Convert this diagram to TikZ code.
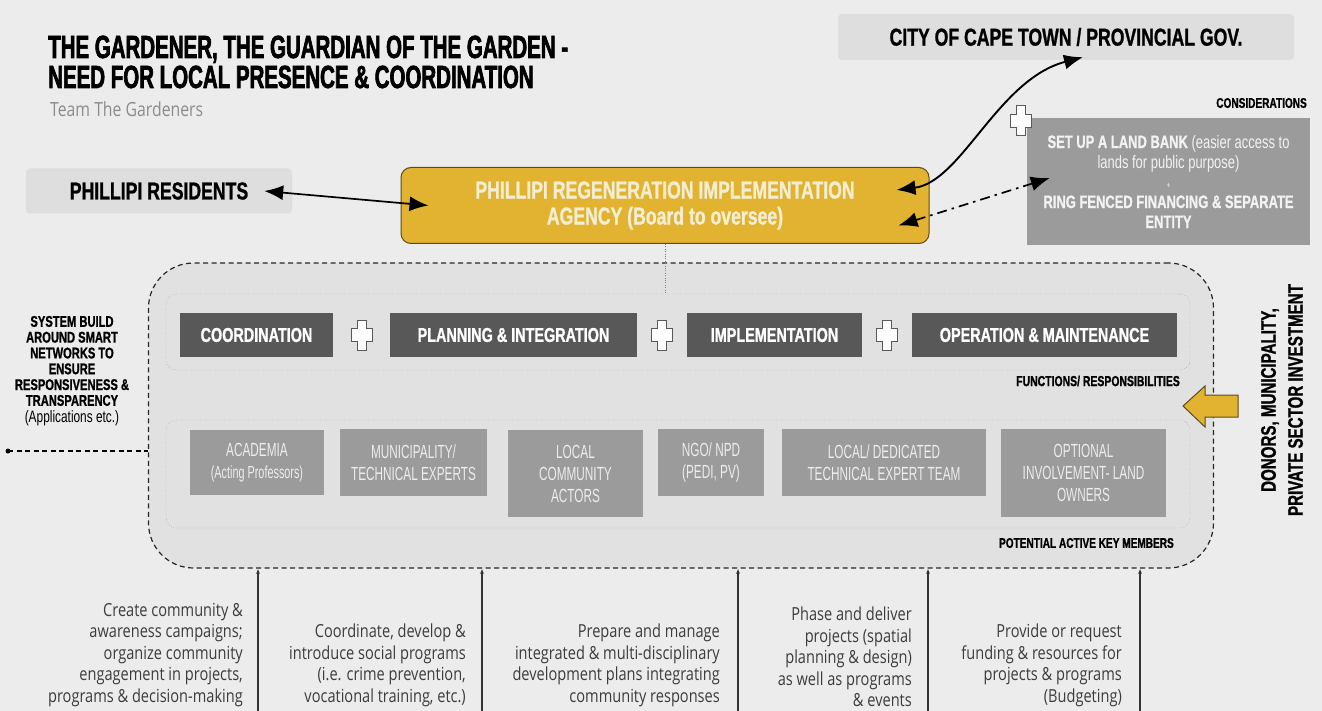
\documentclass[tikz,border=0pt]{standalone}
\usepackage{fontspec}
\usetikzlibrary{arrows.meta,calc}
\newfontfamily\titlefont{Liberation Sans}[FakeStretch=0.64, BoldFeatures={FakeBold=2}]
\newfontfamily\condfont{Liberation Sans}[FakeStretch=0.72, BoldFeatures={FakeBold=1}]
\newfontfamily\slimfont{Liberation Sans}[FakeStretch=0.62]
\newfontfamily\plainfont{Open Sans}[FakeStretch=0.81]
\definecolor{bgcol}{HTML}{ECECEC}
\definecolor{hubfill}{HTML}{E1E1E1}
\definecolor{boxlight}{HTML}{DEDEDE}
\definecolor{agencyyellow}{HTML}{E2B330}
\definecolor{agencyline}{HTML}{5C4B1C}
\definecolor{agencytext}{HTML}{F3EED2}
\definecolor{funcgray}{HTML}{585858}
\definecolor{membergray}{HTML}{9B9B9B}
\definecolor{notegray}{HTML}{3C3C3C}
\tikzset{
  lightbox/.style={fill=boxlight, rounded corners=4pt, inner sep=0pt, font=\condfont\bfseries\fontsize{24.5}{28}\selectfont},
  funcbox/.style={fill=funcgray, text=white, minimum height=44pt, inner sep=0pt, font=\condfont\bfseries\fontsize{20}{24}\selectfont},
  memberbox/.style={fill=membergray, text=white!93!black, inner sep=0pt, align=center, font=\slimfont\fontsize{19}{22}\selectfont},
  groupframe/.style={draw=black!55, dotted, rounded corners=10pt, minimum width=1024pt, inner sep=0pt},
  tag/.style={anchor=east, inner sep=0pt, font=\condfont\bfseries\fontsize{14.5}{16}\selectfont},
  note/.style={anchor=south east, inner sep=0pt, align=right, text=notegray, font=\plainfont\fontsize{18}{21.5}\selectfont},
  bigtip/.style={{Latex[length=19pt,width=15pt]}-{Latex[length=19pt,width=15pt]}, line width=1.7pt},
  riser/.style={-{Latex[length=5pt,width=4pt]}, line width=1.1pt, black!80},
  crosspic/.pic={\draw[fill=white, draw=black!65, line width=1pt] (-4.5,-15) -- (4.5,-15) -- (4.5,-6.5) -- (10.5,-6.5) -- (10.5,6.5) -- (4.5,6.5) -- (4.5,15) -- (-4.5,15) -- (-4.5,6.5) -- (-10.5,6.5) -- (-10.5,-6.5) -- (-4.5,-6.5) -- cycle;}
}
\begin{document}
\begin{tikzpicture}[x=1pt,y=-1pt]
\useasboundingbox (0,0) rectangle (1322,711);
\fill[bgcol] (0,0) rectangle (1322,711);
\node[anchor=base west, inner sep=0pt, font=\titlefont\bfseries\fontsize{32}{32}\selectfont] (title1) at (48,58) {THE GARDENER, THE GUARDIAN OF THE GARDEN -};
\node[anchor=base west, inner sep=0pt, font=\titlefont\bfseries\fontsize{32}{32}\selectfont] (title2) at (48,88) {NEED FOR LOCAL PRESENCE \& COORDINATION};
\node[anchor=base west, inner sep=0pt, text=black!45, font=\plainfont\fontsize{19.5}{22}\selectfont] (team) at (50,117) {Team The Gardeners};
\node[lightbox, minimum width=266pt, minimum height=45pt] (residents) at (159,191) {PHILLIPI RESIDENTS};
\node[lightbox, minimum width=456pt, minimum height=46pt] (city) at (1066,37) {CITY OF CAPE TOWN / PROVINCIAL GOV.};
\node[draw=agencyline, line width=1pt, fill=agencyyellow, rounded corners=10pt, minimum width=528pt, minimum height=76pt, inner sep=0pt, align=center, text=agencytext, font=\condfont\bfseries\fontsize{24.5}{26}\selectfont] (agency) at (665,205.5) {PHILLIPI REGENERATION IMPLEMENTATION\\AGENCY (Board to oversee)};
\node[tag, font=\condfont\bfseries\fontsize{14}{15}\selectfont] (considerlabel) at (1307,103) {CONSIDERATIONS};
\node[fill=membergray, minimum width=283pt, minimum height=127pt, inner sep=0pt, align=center, text=white!95!black, font=\condfont\fontsize{18}{20}\selectfont] (considerations) at (1168.5,181.5) {\textbf{SET UP A LAND BANK} (easier access to\\lands for public purpose)\\{\fontsize{9}{12}\selectfont +}\\\textbf{RING FENCED FINANCING \& SEPARATE}\\\textbf{ENTITY}};
\pic at (1021,121) {crosspic};
\draw[bigtip] ([xshift=-28pt]residents.east) -- ([xshift=28pt]agency.west);
\draw[bigtip, line width=1.9pt] ([xshift=-33pt,yshift=15.5pt]agency.east) .. controls +(65,-8) and +(-85,22) .. ([xshift=17pt,yshift=3pt]city.south);
\draw[bigtip, dash pattern=on 10pt off 5pt on 2.5pt off 5pt] ([xshift=-31pt,yshift=-20pt]agency.east) -- ([xshift=23pt,yshift=3.5pt]considerations.west);
\node[draw=black!85, line width=1.2pt, dash pattern=on 5pt off 3.5pt, fill=hubfill, rounded corners=45pt, minimum width=1065pt, minimum height=305pt, inner sep=0pt] (hub) at (681,415.5) {};
\node[groupframe, minimum height=76pt] (functions) at (678,332) {};
\node[groupframe, minimum height=108pt] (members) at (678,474) {};
\draw[black!50, dotted] (agency.south) -- (agency.south |- functions.north);
\node[funcbox, minimum width=153pt] (coordination) at (256.5,335) {COORDINATION};
\node[funcbox, minimum width=247pt] (planning) at (513.5,335) {PLANNING \& INTEGRATION};
\node[funcbox, minimum width=175pt] (implementation) at (774.5,335) {IMPLEMENTATION};
\node[funcbox, minimum width=265pt] (operation) at (1044.5,335) {OPERATION \& MAINTENANCE};
\pic at ($(coordination.east)!0.5!(planning.west)$) {crosspic};
\pic at ($(planning.east)!0.5!(implementation.west)$) {crosspic};
\pic at ($(implementation.east)!0.5!(operation.west)$) {crosspic};
\node[tag] (functionslabel) at (1180,381) {FUNCTIONS/ RESPONSIBILITIES};
\node[memberbox, minimum width=134pt, minimum height=65pt] (academia) at (257,462.5) {ACADEMIA\\{\fontsize{17.5}{20}\selectfont (Acting Professors)}};
\node[memberbox, minimum width=147pt, minimum height=67pt] (municipality) at (413.5,462.5) {MUNICIPALITY/\\TECHNICAL EXPERTS};
\node[memberbox, minimum width=135pt, minimum height=87pt] (localactors) at (575.5,473.5) {LOCAL\\COMMUNITY\\ACTORS};
\node[memberbox, minimum width=106pt, minimum height=67pt] (ngo) at (711,462.5) {NGO/ NPD\\(PEDI, PV)};
\node[memberbox, minimum width=204pt, minimum height=67pt] (expertteam) at (884,462.5) {LOCAL/ DEDICATED\\TECHNICAL EXPERT TEAM};
\node[memberbox, minimum width=165pt, minimum height=88pt] (landowners) at (1083.5,473) {OPTIONAL\\INVOLVEMENT- LAND\\OWNERS};
\node[tag, font=\condfont\bfseries\fontsize{14}{16}\selectfont] (memberslabel) at (1174,543) {POTENTIAL ACTIVE KEY MEMBERS};
\draw[fill=agencyyellow, draw=agencyline, line width=1pt] (1183,406) -- (1205,386) -- (1205,395) -- (1238,395) -- (1238,417) -- (1205,417) -- (1205,427) -- cycle;
\node[rotate=90, align=center, inner sep=0pt, font=\condfont\bfseries\fontsize{21}{27}\selectfont] (donors) at (1282,400) {DONORS, MUNICIPALITY,\\PRIVATE SECTOR INVESTMENT};
\node[align=center, inner sep=0pt, font=\condfont\bfseries\fontsize{15.5}{15.8}\selectfont] (smartnet) at (72,371) {SYSTEM BUILD\\AROUND SMART\\NETWORKS TO\\ENSURE\\RESPONSIVENESS \&\\TRANSPARENCY\\[1pt]{\mdseries\fontsize{16.5}{17}\selectfont (Applications etc.)}};
\coordinate (leftdot) at (8,451);
\fill (leftdot) circle (2.5);
\draw[line width=1.2pt, dash pattern=on 5pt off 3.5pt] (leftdot) -- (hub.west |- leftdot);
\coordinate (foot1) at (258,711);
\coordinate (foot2) at (482,711);
\coordinate (foot3) at (738,711);
\coordinate (foot4) at (928,711);
\coordinate (foot5) at (1140,711);
\foreach \f in {foot1,foot2,foot3,foot4,foot5}
  \draw[riser] (\f) -- (\f |- hub.south);
\node[note] (task1) at (243,707) {Create community \&\\awareness campaigns;\\organize community\\engagement in projects,\\programs \& decision-making};
\node[note] (task2) at (466,707) {Coordinate, develop \&\\introduce social programs\\(i.e. crime prevention,\\vocational training, etc.)};
\node[note] (task3) at (720,707) {Prepare and manage\\integrated \& multi-disciplinary\\development plans integrating\\community responses};
\node[note] (task4) at (912,707) {Phase and deliver\\projects (spatial\\planning \& design)\\as well as programs\\\& events};
\node[note] (task5) at (1122,707) {Provide or request\\funding \& resources for\\projects \& programs\\(Budgeting)};
\end{tikzpicture}
\end{document}
